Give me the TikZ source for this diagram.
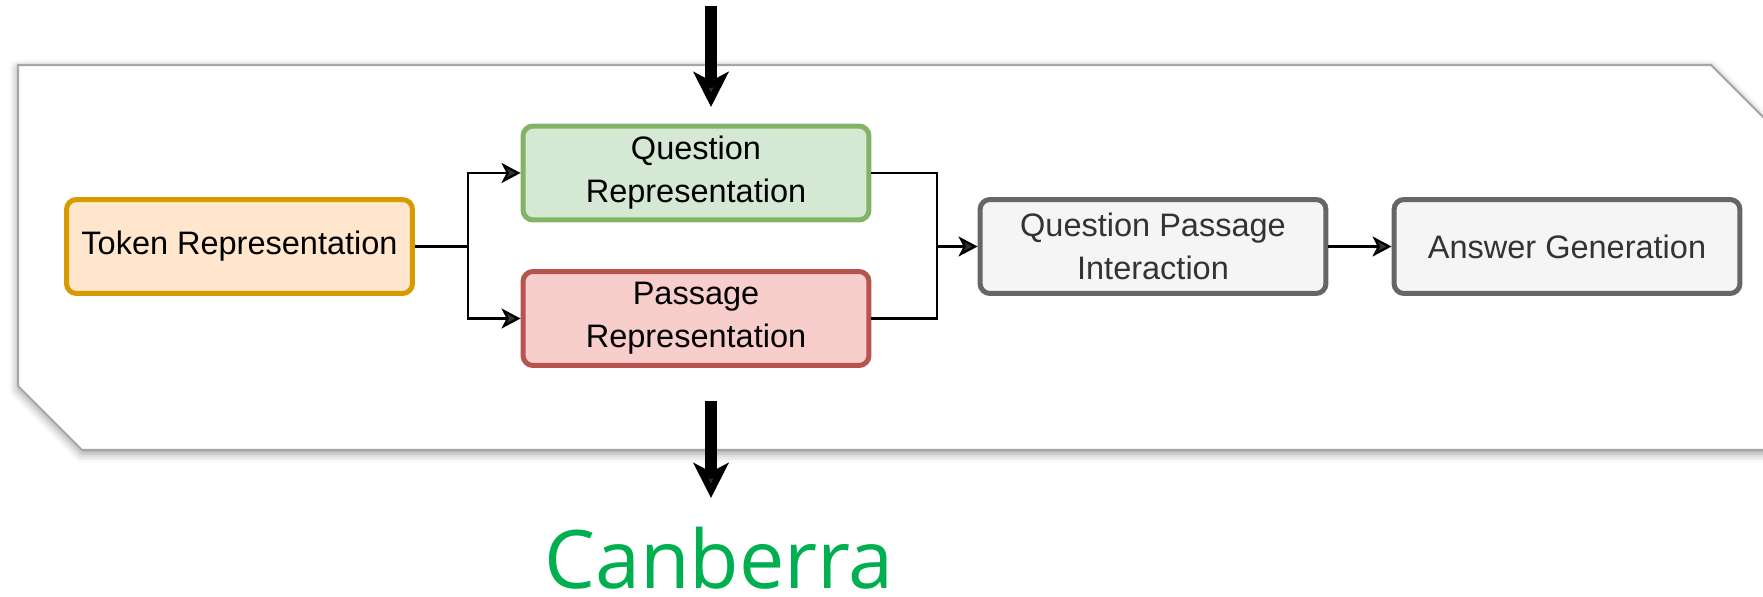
\documentclass[tikz,border=0pt]{standalone}
\usepackage{fontspec}
\setmainfont{Liberation Sans}
\newfontfamily\answerfont{Open Sans}
\usetikzlibrary{arrows.meta,shadows.blur}
\definecolor{tokfill}{HTML}{FFE6CC}
\definecolor{tokline}{HTML}{D79B00}
\definecolor{qfill}{HTML}{D5E8D4}
\definecolor{qline}{HTML}{82B366}
\definecolor{pfill}{HTML}{F8CECC}
\definecolor{pline}{HTML}{B85450}
\definecolor{gfill}{HTML}{F5F5F5}
\definecolor{gline}{HTML}{666666}
\definecolor{gtext}{HTML}{333333}
\definecolor{answergreen}{HTML}{00B050}
\tikzset{
  block/.style={draw, rounded corners=0.2cm, line width=0.1cm, minimum width=6.92cm,
    minimum height=1.88cm, inner sep=0pt, align=center,
    font=\fontsize{18.5}{24.5}\selectfont},
  conn/.style={line width=1.3pt, -{Stealth[length=0.38cm, width=0.4cm, inset=0.1cm]}},
  bigarrow/.style={line width=0.24cm, -{Stealth[length=0.7cm, width=0.7cm, inset=0.18cm]}}
}
\begin{document}
\begin{tikzpicture}[x=0.02cm,y=-0.02cm]
	\useasboundingbox (0,0) rectangle (1763,597);
	\clip (0,0) rectangle (1763,597);
	% panel
	\path [fill=white, draw=gray!70, line width=1.2pt,
		blur shadow={shadow xshift=0pt, shadow yshift=-2pt, shadow blur radius=5pt}]
		(18,65) -- (1711,65) -- (1811,165) -- (1811,450) -- (82,450) -- (18,386) -- cycle;
	% blocks
	\node [block, fill=tokfill, draw=tokline] (token) at (239.5,246.5) {Token Representation};
	\node [block, fill=qfill, draw=qline] (qrep) at (696,173) {Question\\Representation};
	\node [block, fill=pfill, draw=pline] (prep) at (696,318.5) {Passage\\Representation};
	\node [block, fill=gfill, draw=gline, text=gtext] (qpi) at (1153,246.5) {Question Passage\\Interaction};
	\node [block, fill=gfill, draw=gline, text=gtext] (answer) at (1567,246.5) {Answer Generation};
	% connectors
	\coordinate (split) at (468,246.5);
	\coordinate (merge) at (937,246.5);
	\draw [line width=1.3pt] (token.east) -- (split);
	\draw [conn] (split) |- (qrep.west);
	\draw [conn] (split) |- (prep.west);
	\draw [line width=1.3pt] (qrep.east) -| (merge);
	\draw [line width=1.3pt] (prep.east) -| (merge);
	\draw [conn] (merge) -- (qpi.west);
	\draw [conn] (qpi.east) -- (answer.west);
	% input and output
	\coordinate (qin) at (711,6);
	\coordinate (qtip) at (711,107);
	\coordinate (aout) at (711,401);
	\coordinate (atip) at (711,498);
	\draw [bigarrow] (qin) -- (qtip);
	\draw [bigarrow] (aout) -- (atip);
	\node [anchor=base, text=answergreen, font=\answerfont\fontsize{46}{46}\selectfont, inner sep=0pt]
		(city) at (719,588) {Canberra};
\end{tikzpicture}
\end{document}
